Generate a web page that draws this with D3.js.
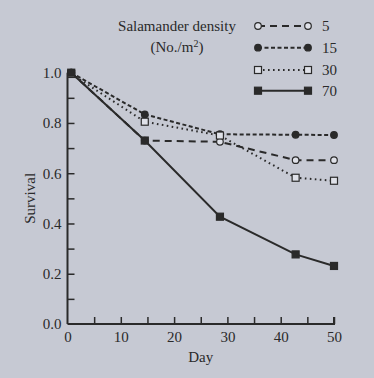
<!DOCTYPE html>
<html><head><meta charset="utf-8">
<script src="https://cdn.jsdelivr.net/npm/d3@7"></script>
<style>html,body{margin:0;padding:0;background:#c6c9d3;}svg{display:block;}</style>
</head><body>
<script>
const days = [0.7, 14.5, 28.6, 42.8, 50];
const series5 = [1.0, 0.73, 0.725, 0.652, 0.652];
const series15 = [1.0, 0.834, 0.755, 0.753, 0.752];
const series30 = [0.995, 0.805, 0.75, 0.582, 0.57];
const series70 = [1.0, 0.73, 0.427, 0.277, 0.231];
const densities = ["5", "15", "30", "70"];
const xTicks = [0, 10, 20, 30, 40, 50];
const yTicks = [0.0, 0.2, 0.4, 0.6, 0.8, 1.0];

const W = 374, H = 378;
const svg = d3.select("body").append("svg").attr("width", W).attr("height", H);
svg.append("rect").attr("width", W).attr("height", H).attr("fill", "#c6c9d3");

const x = d3.scaleLinear().domain([0, 50]).range([67.5, 334]);
const y = d3.scaleLinear().domain([0, 1]).range([324, 72.7]);
const font = "'Liberation Serif', 'DejaVu Serif', serif";
const ink = "#2a2a2a";

// axes
const xAxis = d3.axisBottom(x).tickValues(d3.range(0, 51, 5)).tickSize(-7)
  .tickFormat(d => xTicks.includes(d) ? d : "");
const gx = svg.append("g").attr("transform", `translate(0,${y(0)})`).call(xAxis);
const yAxis = d3.axisLeft(y).tickValues(d3.range(0, 1.01, 0.1)).tickSize(-7)
  .tickFormat(d => yTicks.some(t => Math.abs(t - d) < 1e-6) ? d3.format(".1f")(d) : "");
const gy = svg.append("g").attr("transform", `translate(${x(0)},0)`).call(yAxis);
[gx, gy].forEach(g => {
  g.select(".domain").attr("stroke", ink).attr("stroke-width", 2);
  g.selectAll(".tick line").attr("stroke", ink).attr("stroke-width", 1.5);
  g.selectAll("text").attr("font-family", font).attr("font-size", 15).attr("fill", ink);
});
gx.select(".domain").attr("d", `M${x(0)},0H${x(50)}V-7`);
gy.select(".domain").attr("d", `M0,${y(0)}V${y(1)}`);
gx.selectAll(".tick text").attr("dy", "0.9em").attr("y", 4);
gy.selectAll(".tick text").attr("x", -6);
gy.selectAll(".tick").filter(d => Math.abs(d) < 1e-6).select("line").remove();
gx.selectAll(".tick").filter(d => d === 0).select("line").remove();

svg.append("text").attr("x", x(25)).attr("y", 362).attr("text-anchor", "middle")
  .attr("font-family", font).attr("font-size", 15).attr("fill", ink).text("Day");
svg.append("text").attr("transform", `translate(35,${y(0.5)}) rotate(-90)`)
  .attr("text-anchor", "middle").attr("font-family", font).attr("font-size", 15)
  .attr("fill", ink).text("Survival");

const styles = [
  {vals: series5, dash: "7,5", marker: "circle", fill: "#dfe1e8"},
  {vals: series15, dash: "4,2.5", marker: "circle", fill: ink},
  {vals: series30, dash: "1.6,3.4", marker: "square", fill: "#dfe1e8"},
  {vals: series70, dash: null, marker: "square", fill: ink}
];
const line = d3.line().x(d => x(d[0])).y(d => y(d[1]));

function drawMarker(g, m, cx, cy, fill) {
  if (m === "circle") {
    g.append("circle").attr("cx", cx).attr("cy", cy).attr("r", 3.3)
      .attr("fill", fill).attr("stroke", ink).attr("stroke-width", 1.2);
  } else {
    g.append("rect").attr("x", cx - 3.5).attr("y", cy - 3.5).attr("width", 7).attr("height", 7)
      .attr("fill", fill).attr("stroke", ink).attr("stroke-width", 1.2);
  }
}

const plot = svg.append("g");
styles.slice().reverse().forEach(s => {
  const pts = days.map((d, i) => [d, s.vals[i]]);
  plot.append("path").attr("d", line(pts)).attr("fill", "none").attr("stroke", ink)
    .attr("stroke-width", 2).attr("stroke-dasharray", s.dash);
});
styles.forEach(s => {
  days.forEach((d, i) => drawMarker(plot, s.marker, x(d), y(s.vals[i]), s.fill));
});

// legend
svg.append("text").attr("x", 177).attr("y", 31).attr("text-anchor", "middle")
  .attr("font-family", font).attr("font-size", 15).attr("fill", ink).text("Salamander density");
const sub = svg.append("text").attr("x", 177).attr("y", 52).attr("text-anchor", "middle")
  .attr("font-family", font).attr("font-size", 15).attr("fill", ink);
sub.append("tspan").text("(No./m");
sub.append("tspan").attr("font-size", 10).attr("dy", -5).text("2");
sub.append("tspan").attr("dy", 5).text(")");

const legY = [26, 47.7, 70, 90.7];
styles.forEach((s, i) => {
  const g = svg.append("g");
  g.append("line").attr("x1", 258).attr("x2", 308).attr("y1", legY[i]).attr("y2", legY[i])
    .attr("stroke", ink).attr("stroke-width", 2).attr("stroke-dasharray", s.dash);
  drawMarker(g, s.marker, 258, legY[i], s.fill);
  drawMarker(g, s.marker, 308, legY[i], s.fill);
  g.append("text").attr("x", 322).attr("y", legY[i] + 5).attr("font-family", font)
    .attr("font-size", 15).attr("fill", ink).text(densities[i]);
});
</script>
</body></html>
